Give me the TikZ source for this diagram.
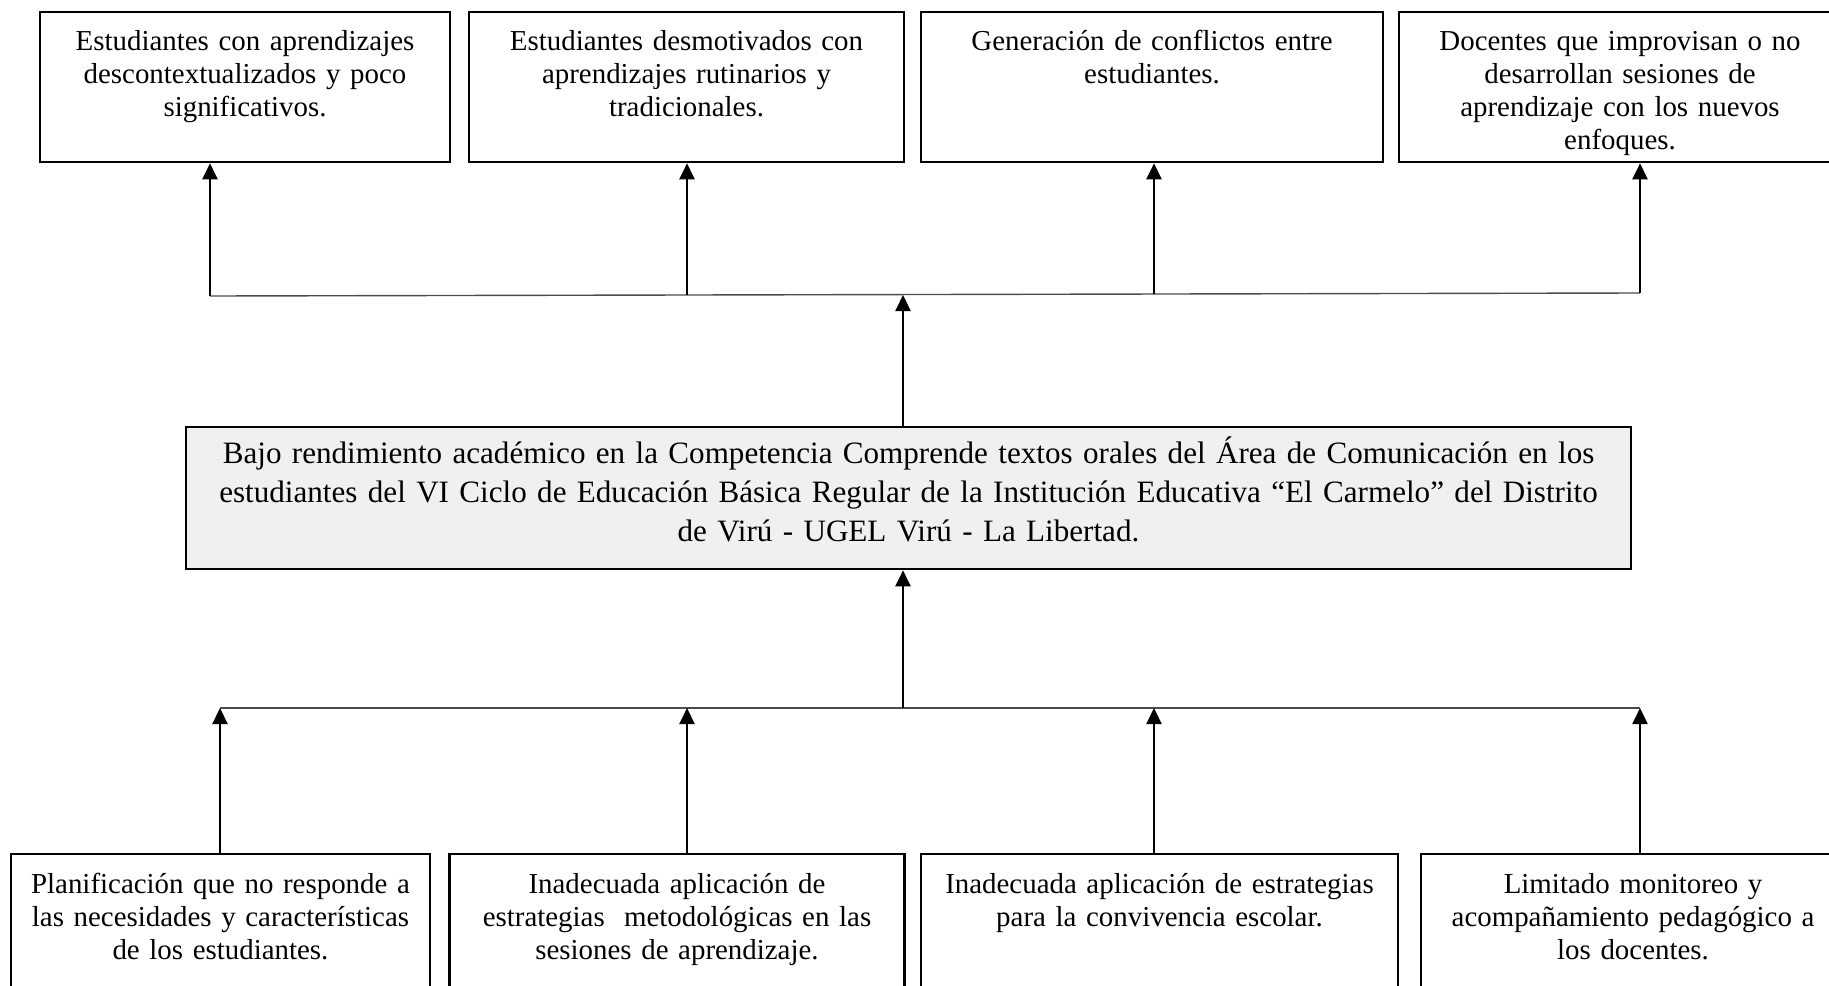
\documentclass[tikz,border=0pt]{standalone}
\usepackage{fontspec}
\setmainfont{Liberation Serif}
\usepackage{tikz}
\usetikzlibrary{arrows.meta, positioning, calc}
\tikzset{
    ebox/.style={rectangle, draw=black, line width=1.3pt, fill=white,
                 align=center, inner xsep=4pt, inner ysep=0pt,
                 text height=19pt, text depth=56pt,
                 font=\fontsize{14.45}{16.65}\selectfont},
    pbox/.style={rectangle, draw=black, line width=1.3pt, fill=black!6,
                 align=center, inner xsep=4pt, inner ysep=0pt,
                 text width=714.5pt, text height=18pt, text depth=53pt,
                 font=\fontsize{15.55}{19.5}\selectfont},
    cbox/.style={rectangle, draw=black, line width=1.3pt, fill=white,
                 align=center, inner xsep=4pt, inner ysep=0pt,
                 text height=19.5pt, text depth=60.5pt,
                 font=\fontsize{14.45}{16.65}\selectfont},
    arr/.style={-{Triangle[width=7.5pt,length=8pt]}, line width=1.1pt},
    lin/.style={line width=0.7pt, draw=black!70}
}

\begin{document}
\begin{tikzpicture}[x=0.5pt, y=-0.5pt]
\useasboundingbox (0,0) rectangle (1829,985);

% ── Efectos (fila superior) ───────────────────────────────────────────
\node[ebox, text width=197pt]   at (245,87)    (efe1) {Estudiantes con aprendizajes\\descontextualizados y poco\\significativos.};
\node[ebox, text width=209.5pt] at (686.5,87)  (efe2) {Estudiantes desmotivados con\\aprendizajes rutinarios y\\tradicionales.};
\node[ebox, text width=223pt]   at (1152,87)   (efe3) {Generación de conflictos entre\\estudiantes.};
\node[ebox, text width=213pt]   at (1620,87)   (efe4) {Docentes que improvisan o no\\desarrollan sesiones de\\aprendizaje con los nuevos\\enfoques.};

% ── Problema central ──────────────────────────────────────────────────
\node[pbox] at (908.5,498) (prob) {Bajo rendimiento académico en la Competencia Comprende textos orales del Área de Comunicación en los\\estudiantes del VI Ciclo de Educación Básica Regular de la Institución Educativa “El Carmelo” del Distrito\\de Virú - UGEL Virú - La Libertad.};

% ── Causas (fila inferior) ────────────────────────────────────────────
\node[cbox, text width=201.5pt] at (220.5,934)  (cau1) {Planificación que no responde a\\las necesidades y características\\de los estudiantes.};
\node[cbox, text width=219.5pt] at (677,934)    (cau2) {Inadecuada aplicación de\\estrategias\ \ metodológicas en las\\sesiones de aprendizaje.};
\node[cbox, text width=230.5pt] at (1159.5,934) (cau3) {Inadecuada aplicación de estrategias\\para la convivencia escolar.};
\node[cbox, text width=204pt]   at (1633,934)   (cau4) {Limitado monitoreo y\\acompañamiento pedagógico a\\los docentes.};

% ── Puntos de union ───────────────────────────────────────────────────
\coordinate (te1) at (210,296);
\coordinate (te2) at (687,295);
\coordinate (te3) at (1154,294);
\coordinate (te4) at (1640,293);
\coordinate (tc)  at (903,295);
\coordinate (cb1) at (220,708);
\coordinate (cb2) at (687,708);
\coordinate (cb3) at (1154,708);
\coordinate (cb4) at (1640,708);
\coordinate (bc)  at (903,708);

% ── Problema -> efectos ───────────────────────────────────────────────
\draw[lin] (te1) -- (te4);
\draw[arr] (tc |- prob.north) -- (tc);
\draw[arr] (te1) -- (te1 |- efe1.south);
\draw[arr] (te2) -- (te2 |- efe2.south);
\draw[arr] (te3) -- (te3 |- efe3.south);
\draw[arr] (te4) -- (te4 |- efe4.south);

% ── Causas -> problema ────────────────────────────────────────────────
\draw[lin] (cb1) -- (cb4);
\draw[arr] (cb1 |- cau1.north) -- (cb1);
\draw[arr] (cb2 |- cau2.north) -- (cb2);
\draw[arr] (cb3 |- cau3.north) -- (cb3);
\draw[arr] (cb4 |- cau4.north) -- (cb4);
\draw[arr] (bc) -- (bc |- prob.south);
\end{tikzpicture}
\end{document}
